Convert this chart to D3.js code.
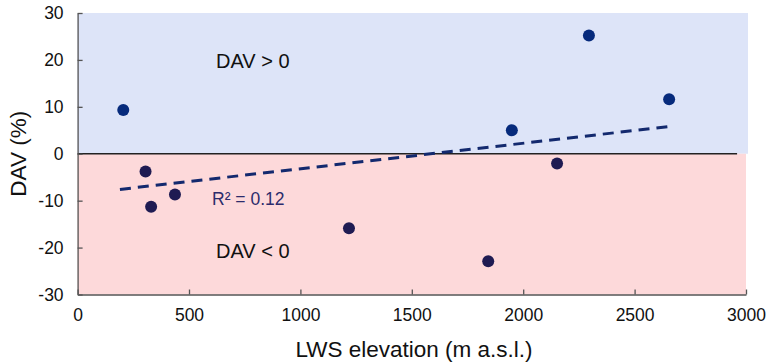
<!DOCTYPE html>
<html>
<head>
<meta charset="utf-8">
<script src="https://cdn.jsdelivr.net/npm/d3@7"></script>
<style>
  body { margin: 0; background: #fff; }
  svg text { font-family: "Liberation Sans", Arial, sans-serif; }
</style>
</head>
<body>
<div id="chart"></div>
<script>
// elevation (m a.s.l.) and DAV (%) per site
var elevation = [205, 305, 330, 437, 1218, 1843, 1949, 2152, 2295, 2655];
var dav = [9.3, -3.8, -11.3, -8.7, -15.9, -22.9, 5.0, -2.1, 25.2, 11.6];
var trendX = [190, 2655];
var trendY = [-7.6, 5.8];
var xTicks = [0, 500, 1000, 1500, 2000, 2500, 3000];
var yTicks = [-30, -20, -10, 0, 10, 20, 30];

var W = 768, H = 364;
var m = { left: 77.6, right: 746, top: 13, bottom: 294.5 };

var svg = d3.select('#chart').append('svg')
	.attr('width', W)
	.attr('height', H);

var x = d3.scaleLinear().domain([0, 3000]).range([m.left, m.right]);
var y = d3.scaleLinear().domain([-30, 30]).range([m.bottom, m.top]);

var fmt = d => String(d); // plain hyphen minus, no thousands separator

// shaded halves
svg.append('rect')
	.attr('x', x(0)).attr('y', y(30))
	.attr('width', x(3000) - x(0) + 2).attr('height', y(0) - y(30))
	.attr('fill', '#dde4f8');
svg.append('rect')
	.attr('x', x(0)).attr('y', y(0))
	.attr('width', x(3000) - x(0)).attr('height', y(-30) - y(0))
	.attr('fill', '#fdd9da');

// zero line
svg.append('line')
	.attr('x1', x(0)).attr('x2', x(2960))
	.attr('y1', y(0)).attr('y2', y(0))
	.attr('stroke', '#222').attr('stroke-width', 1.3);

// axes (ticks point inward)
var xAxis = svg.append('g')
	.attr('transform', 'translate(0,' + y(-30) + ')')
	.call(d3.axisBottom(x).tickValues(xTicks).tickFormat(fmt)
		.tickSize(-5).tickPadding(14.5).tickSizeOuter(0));
var yAxis = svg.append('g')
	.attr('transform', 'translate(' + x(0) + ',0)')
	.call(d3.axisLeft(y).tickValues(yTicks).tickFormat(fmt)
		.tickSize(-5).tickPadding(14).tickSizeOuter(0));

[xAxis, yAxis].forEach(function(g) {
	g.select('.domain').attr('stroke', '#555').attr('stroke-width', 1.3);
	g.selectAll('.tick line').attr('stroke', '#555').attr('stroke-width', 1.3);
	g.selectAll('.tick text')
		.attr('fill', '#111')
		.style('font-size', '17.5px');
});

// trend line
svg.append('line')
	.attr('x1', x(trendX[0])).attr('y1', y(trendY[0]))
	.attr('x2', x(trendX[1])).attr('y2', y(trendY[1]))
	.attr('stroke', '#13296e')
	.attr('stroke-width', 3)
	.attr('stroke-dasharray', '11,7');

// points
var pts = elevation.map(function(e, i) { return { x: e, y: dav[i] }; });
svg.append('g').selectAll('circle')
	.data(pts)
	.enter().append('circle')
	.attr('cx', d => x(d.x))
	.attr('cy', d => y(d.y))
	.attr('r', 6)
	.attr('fill', d => d.y >= 0 ? '#062a7c' : '#1f1b52');

// annotations
svg.append('text')
	.attr('x', 216).attr('y', 68)
	.attr('fill', '#111')
	.style('font-size', '20px')
	.text('DAV > 0');
svg.append('text')
	.attr('x', 216).attr('y', 258)
	.attr('fill', '#111')
	.style('font-size', '20px')
	.text('DAV < 0');
svg.append('text')
	.attr('x', 212).attr('y', 205)
	.attr('fill', '#2c2c6c')
	.style('font-size', '17.5px')
	.text('R² = 0.12');

// axis titles
svg.append('text')
	.attr('x', 414).attr('y', 357)
	.attr('text-anchor', 'middle')
	.attr('fill', '#111')
	.style('font-size', '22.5px')
	.text('LWS elevation (m a.s.l.)');
svg.append('text')
	.attr('transform', 'translate(26,' + y(0) + ') rotate(-90)')
	.attr('text-anchor', 'middle')
	.attr('fill', '#111')
	.style('font-size', '22.5px')
	.text('DAV (%)');
</script>
</body>
</html>
